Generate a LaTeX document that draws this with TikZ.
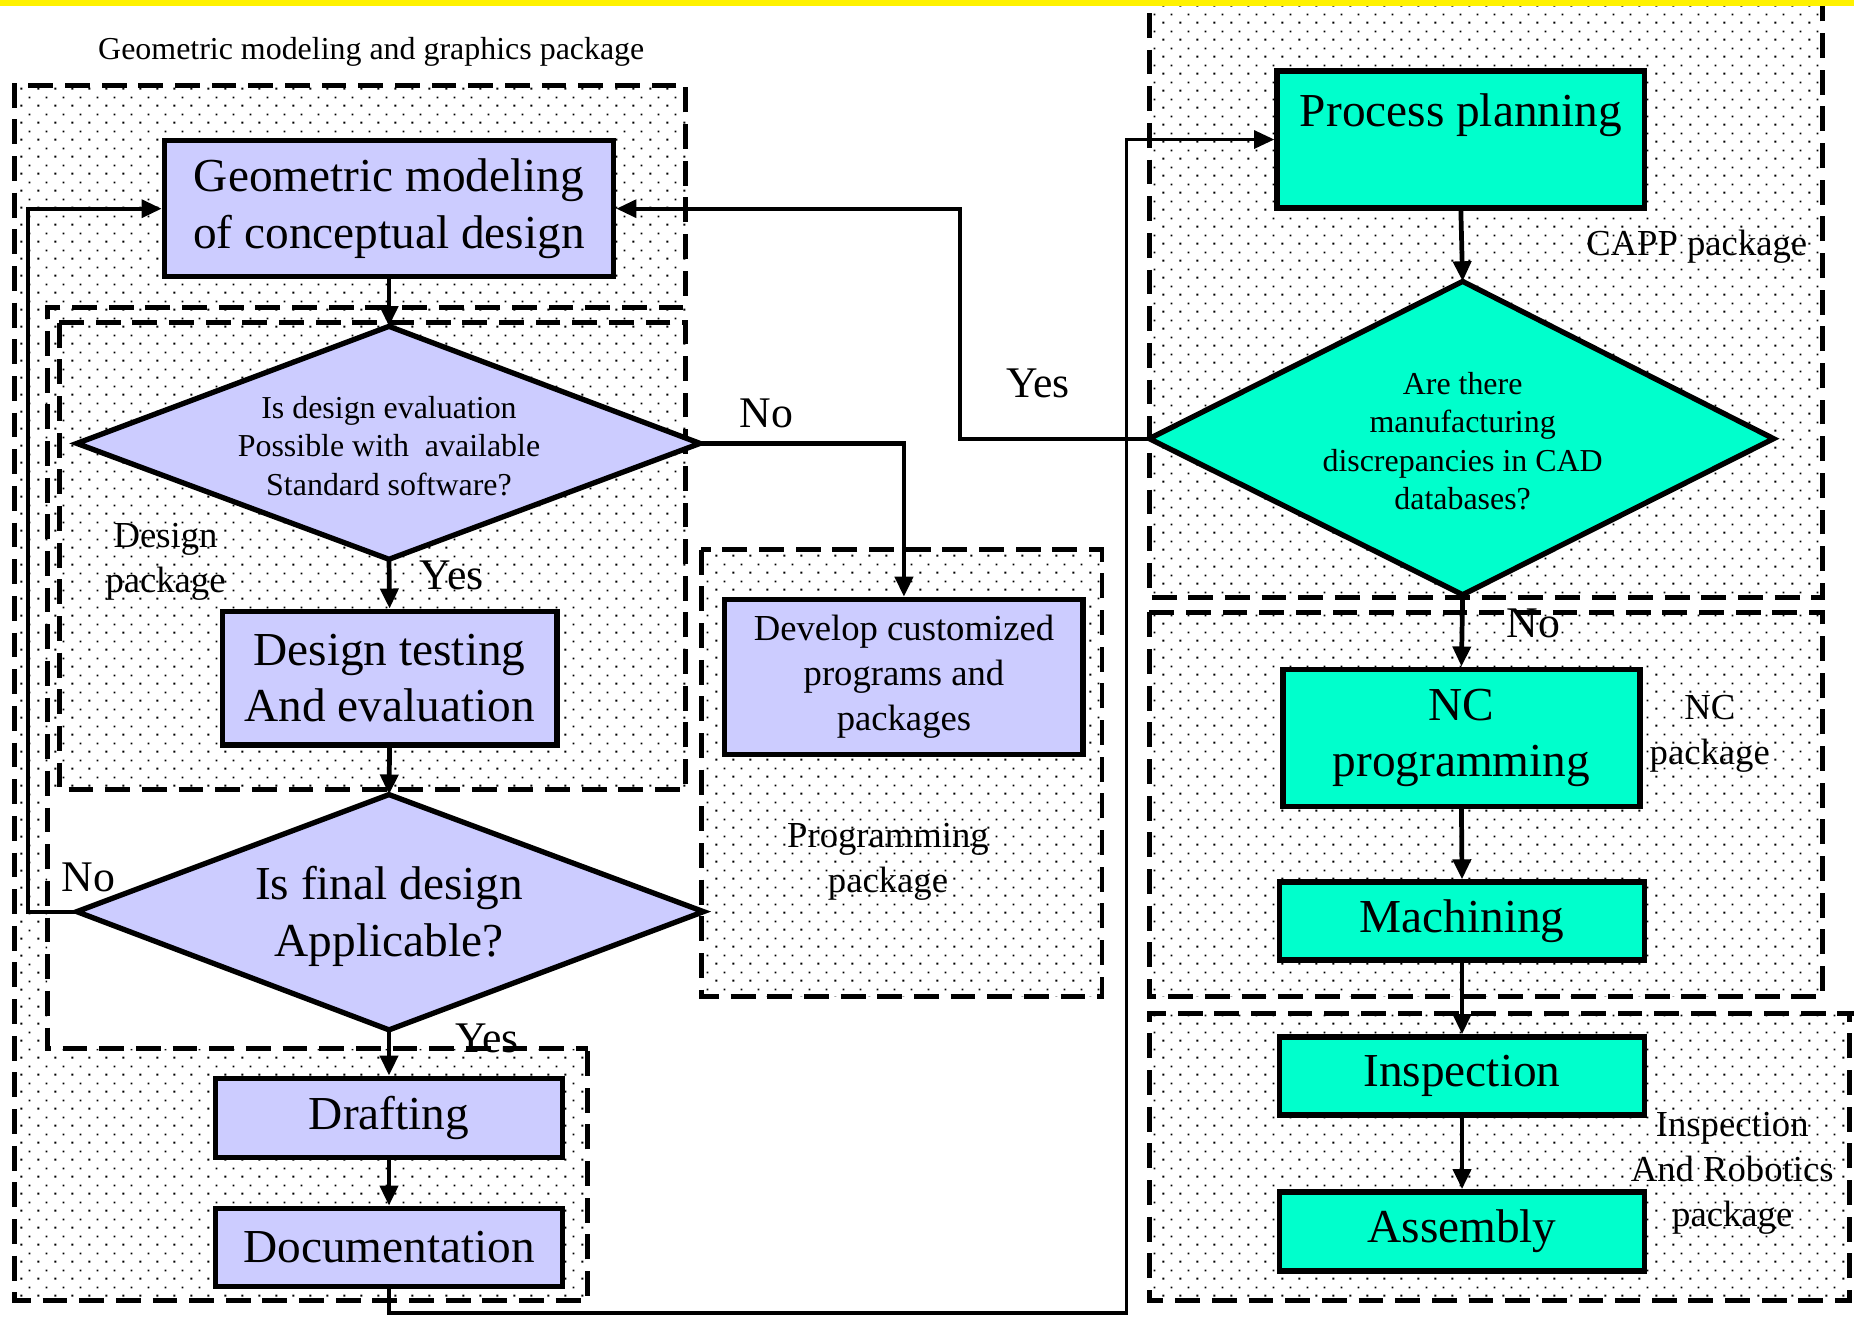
\documentclass[tikz,border=0pt]{standalone}
\usepackage{fontspec}
\setmainfont{Liberation Serif}
\usetikzlibrary{arrows.meta,patterns.meta,calc}

\definecolor{lav}{RGB}{204,204,255}
\definecolor{aqua}{RGB}{0,255,204}

% sparse dot screen used for the package areas
\pgfdeclarepattern{
  name=pkgdots,
  type=uncolored,
  bottom left={\pgfpoint{0pt}{0pt}},
  top right={\pgfpoint{14pt}{14pt}},
  tile size={\pgfpoint{14pt}{14pt}},
  code={
    \pgfpathrectangle{\pgfpoint{3pt}{3pt}}{\pgfpoint{1.6pt}{1.6pt}}
    \pgfpathrectangle{\pgfpoint{10pt}{10pt}}{\pgfpoint{1.6pt}{1.6pt}}
    \pgfusepath{fill}
  }
}

\begin{document}
\begin{tikzpicture}[x=1pt,y=-1pt,
  dotarea/.style={pattern=pkgdots, pattern color=black},
  region/.style={draw, line width=4.2pt, dash pattern=on 21pt off 10pt},
  box/.style={draw, rectangle, line width=4.5pt, inner sep=0pt, align=center,
    font=\fontsize{40}{48}\selectfont},
  dia/.style={draw, line width=4.5pt, line join=miter},
  dtext/.style={align=center, inner sep=0pt, font=\fontsize{27}{32.5}\selectfont},
  conn/.style={line width=4pt, -{Triangle[length=17pt,width=15pt]}},
  lbl/.style={align=center, inner sep=0pt, font=\fontsize{31}{38}\selectfont},
  yn/.style={inner sep=0pt, font=\fontsize{37}{44}\selectfont}]

\useasboundingbox (0,0) rectangle (1568,1113);
\clip (0,0) rectangle (1568,1113);
\fill[white] (0,0) rectangle (1568,1113);

% ---- dotted package areas ----
\fill[dotarea] (12,72) -- (580,72) -- (580,668) -- (40,668) -- (40,887)
  -- (497,887) -- (497,1100) -- (12,1100) -- cycle;
\fill[dotarea] (593,465) rectangle (932,843);
\fill[dotarea] (972,-20) rectangle (1541,505);
\fill[dotarea] (972,518) rectangle (1541,843);
\fill[dotarea] (972,857) rectangle (1564,1100);

% ---- dashed package borders ----
\draw[region] (580,250) -- (580,72) -- (12,72) -- (12,1100) -- (497,1100) -- (497,887);
\draw[region] (578,260) -- (40,260) -- (40,887) -- (497,887);
\draw[region] (50,273) rectangle (580,668);
\draw[region] (593,465) rectangle (932,843);
\draw[region] (972,-20) rectangle (1541,505);
\draw[region] (972,518) rectangle (1541,843);
\draw[region] (1575,857) -- (972,857) -- (972,1100) -- (1564,1100) -- (1564,857);

\fill[yellow] (0,0) rectangle (1568,5);

% ---- package captions ----
\node[inner sep=0pt, font=\fontsize{27}{32}\selectfont] (tgeo) at (314,44)
  {Geometric modeling and graphics package};
\node[lbl] (tdes) at (140,475) {Design\\package};
\node[lbl] (tprog) at (751,729) {Programming\\package};
\node[lbl] (tcapp) at (1435,209) {CAPP package};
\node[lbl] (tnc) at (1446,621) {NC\\package};
\node[lbl] (tinsp) at (1465,992) {Inspection\\And Robotics\\package};

% ---- design column ----
\node[box, fill=lav, minimum width=380pt, minimum height=115pt] (geo) at (329,176.5)
  {Geometric modeling\\of conceptual design};

\coordinate (d1n) at (329,276);
\coordinate (d1e) at (592,375);
\coordinate (d1s) at (329,473);
\coordinate (d1w) at (65,375);
\draw[dia, fill=lav] (d1n) -- (d1e) -- (d1s) -- (d1w) -- cycle;
\node[dtext] (d1) at (329,377)
  {Is design evaluation\\Possible with\ \ available\\Standard software?};

\node[box, fill=lav, minimum width=283pt, minimum height=113pt] (dtest) at (329.5,573.5)
  {Design testing\\And evaluation};

\coordinate (d2n) at (329,672);
\coordinate (d2e) at (595,771);
\coordinate (d2s) at (329,871);
\coordinate (d2w) at (65,771);
\draw[dia, fill=lav] (d2n) -- (d2e) -- (d2s) -- (d2w) -- cycle;
\node[dtext, font=\fontsize{40}{48}\selectfont] (d2) at (329,775)
  {Is final design\\Applicable?};

\node[box, fill=lav, minimum width=294pt, minimum height=67pt] (draft) at (329,945.5) {Drafting};
\node[box, fill=lav, minimum width=294pt, minimum height=66pt] (doc) at (329,1055) {Documentation};

\node[box, fill=lav, minimum width=303pt, minimum height=131pt,
  font=\fontsize{31}{38}\selectfont] (dev) at (764.5,572.5)
  {Develop customized\\programs and\\packages};

% ---- manufacturing column ----
\node[box, fill=aqua, minimum width=311pt, minimum height=116pt,
  font=\fontsize{40}{38}\selectfont] (pp) at (1235.5,118)
  {Process planning\\\strut};

\coordinate (d3n) at (1237,238);
\coordinate (d3e) at (1500,371);
\coordinate (d3s) at (1237,503);
\coordinate (d3w) at (972,371);
\draw[dia, fill=aqua] (d3n) -- (d3e) -- (d3s) -- (d3w) -- cycle;
\node[dtext] (d3) at (1237,373)
  {Are there\\manufacturing\\discrepancies in CAD\\databases?};

\node[box, fill=aqua, minimum width=302pt, minimum height=116pt] (nc) at (1236,624)
  {NC\\programming};
\node[box, fill=aqua, minimum width=309pt, minimum height=66pt] (mach) at (1236.5,779) {Machining};
\node[box, fill=aqua, minimum width=309pt, minimum height=66pt] (insp) at (1236.5,910) {Inspection};
\node[box, fill=aqua, minimum width=309pt, minimum height=67pt] (asm) at (1236.5,1041.5) {Assembly};

% ---- connectors ----
\draw[conn] (geo.south) -- (d1n);
\draw[conn] (d1s) -- (dtest.north);
\draw[conn] (dtest.south) -- (d2n);
\draw[conn] (d2s) -- (draft.north);
\draw[conn] (draft.south) -- (doc.north);
\draw[conn, line width=3.5pt] (d2w) -- ++(-41,0) |- (geo.west);
\draw[conn] (d1e) -| (dev.north);
\draw[conn, line width=3.5pt] (d3w) -- ++(-160,0) |- (geo.east);
\draw[conn, line width=3pt] (doc.south) -- ++(0,20) -| ($(pp.west)+(-125,0)$) -- (pp.west);
\draw[conn] (pp.south) -- (d3n);
\draw[conn] (d3s) -- (nc.north);
\draw[conn] (nc.south) -- (mach.north);
\draw[conn] (mach.south) -- (insp.north);
\draw[conn] (insp.south) -- (asm.north);

% ---- decision labels ----
\node[yn] (y1) at (382,487) {Yes};
\node[yn] (n1) at (648,350) {No};
\node[yn] (y3) at (878,324) {Yes};
\node[yn] (n2) at (75,742) {No};
\node[yn] (y2) at (412,878) {Yes};
\node[yn] (n3) at (1297,527) {No};

\end{tikzpicture}
\end{document}
